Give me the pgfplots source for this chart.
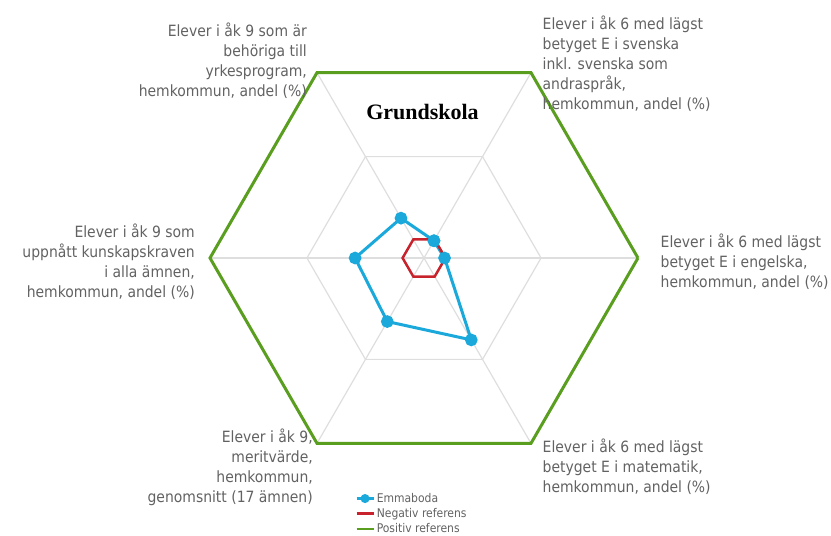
\documentclass[border=0pt]{standalone}
\usepackage{pgfplots}
\pgfplotsset{compat=1.18}
\usepackage{fontspec}
\setmainfont{DejaVu Sans Condensed}
\newfontfamily\titlefont{Liberation Serif}
\definecolor{emma}{HTML}{1BA9DC}
\definecolor{negref}{HTML}{C8232C}
\definecolor{posref}{HTML}{5A9E1F}
\definecolor{gridgray}{HTML}{DEDEDE}
\definecolor{labgray}{HTML}{626262}

\begin{document}
\begin{tikzpicture}
\begin{axis}[
    width=831pt, height=535pt,
    scale only axis,
    hide axis,
    clip=false,
    xmin=-198.13, xmax=190.19,
    ymin=-129.44, ymax=120.56,
    data cs=polar,
    legend style={draw=none, fill=none, font=\fontsize{12}{14}\selectfont\color{labgray},
        at={(axis cs:-32.2,-108.9)}, anchor=north west,
        row sep=0.5pt, inner sep=0pt},
    legend cell align=left,
    legend image code/.code={\draw[#1, line width=2.5pt, mark size=3.2pt, mark repeat=2, mark phase=2]
        plot coordinates {(0pt,0pt) (8.5pt,0pt) (17pt,0pt)};},
]
% grid
\addplot[gridgray, line width=1.2pt, forget plot] coordinates {(0,54.7) (60,54.7) (120,54.7) (180,54.7) (240,54.7) (300,54.7) (360,54.7)};
\addplot[gridgray, line width=1.2pt, forget plot] coordinates {(60,100) (240,100)};
\addplot[gridgray, line width=1.2pt, forget plot] coordinates {(120,100) (300,100)};
\addplot[gridgray, line width=1.2pt, forget plot] coordinates {(0,100) (180,100)};
% series
\addplot[emma, line width=3pt, mark=*, mark size=4.8pt, mark options={solid}] coordinates {
    (60,9.3) (0,9.6) (-60,44.2) (-120,34.3) (180,32.2) (120,21.5) (60,9.3)};
\addlegendentry{Emmaboda}
\addplot[negref, line width=2.5pt] coordinates {
    (0,10) (60,10) (120,10) (180,10) (240,10) (300,10) (360,10)};
\addlegendentry{Negativ referens}
\addplot[posref, line width=3pt] coordinates {
    (0,100) (60,100) (120,100) (180,100) (240,100) (300,100) (360,100)};
\addlegendentry{Positiv referens}

\node[font=\titlefont\bfseries\fontsize{22}{25}\selectfont] at (axis cs:-0.7,68.2) {Grundskola};
\begin{scope}[every node/.style={font=\fontsize{15.5}{20}\selectfont, text=labgray, inner sep=0pt}]
\node[anchor=north east, align=right] at (axis cs:-54.67,110.14) {Elever i åk 9 som är\\behöriga till\\yrkesprogram,\\hemkommun, andel (\%)};
\node[anchor=north west, align=left] at (axis cs:55.37,113.41) {Elever i åk 6 med lägst\\betyget E i svenska\\inkl. svenska som\\andraspråk,\\hemkommun, andel (\%)};
\node[anchor=north west, align=left] at (axis cs:110.51,11.21) {Elever i åk 6 med lägst\\betyget E i engelska,\\hemkommun, andel (\%)};
\node[anchor=north west, align=left] at (axis cs:55.37,-84.58) {Elever i åk 6 med lägst\\betyget E i matematik,\\hemkommun, andel (\%)};
\node[anchor=north east, align=right] at (axis cs:-51.87,-79.91) {Elever i åk 9,\\meritvärde,\\hemkommun,\\genomsnitt (17 ämnen)};
\node[anchor=north east, align=right] at (axis cs:-107.01,15.89) {Elever i åk 9 som\\uppnått kunskapskraven\\i alla ämnen,\\hemkommun, andel (\%)};
\end{scope}
\end{axis}
\pgfresetboundingbox
\path[use as bounding box] (current axis.south west) rectangle (current axis.north east);
\end{tikzpicture}
\end{document}
